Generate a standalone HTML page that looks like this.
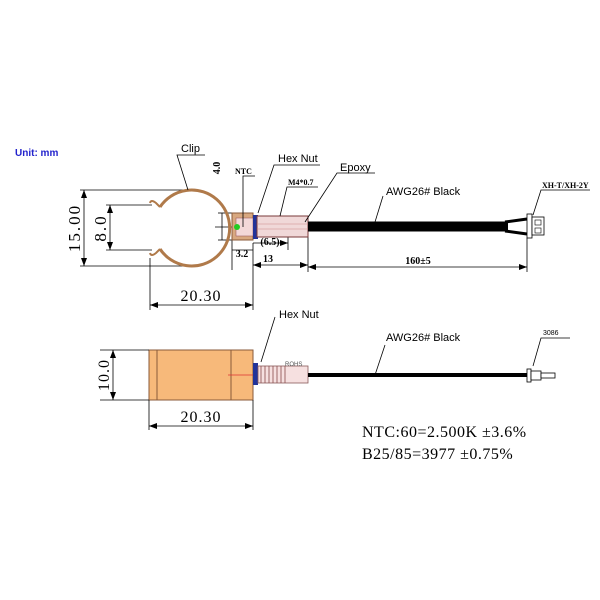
<!DOCTYPE html>
<html><head><meta charset="utf-8"><style>body{margin:0;background:#fff}svg{display:block}</style></head><body>
<svg width="600" height="600" viewBox="0 0 600 600" xmlns="http://www.w3.org/2000/svg">
<defs>
<marker id="a" markerWidth="8" markerHeight="6" refX="8" refY="3" orient="auto-start-reverse" markerUnits="userSpaceOnUse"><path d="M0,0L8,3L0,6z" fill="#000"/></marker>
</defs>
<rect width="600" height="600" fill="#fff"/>
<text x="15" y="156" font-family="Liberation Sans,sans-serif" font-size="10" font-weight="bold" fill="#2222cc">Unit: mm</text>

<!-- TOP VIEW -->
<g stroke="#000" stroke-width="0.8" fill="none">
<line x1="80" y1="190" x2="192" y2="190"/><line x1="80" y1="266" x2="192" y2="266"/>
<line x1="84" y1="190" x2="84" y2="266" marker-start="url(#a)" marker-end="url(#a)"/>
<line x1="106" y1="205" x2="152" y2="205"/><line x1="106" y1="250" x2="152" y2="250"/>
<line x1="110" y1="205" x2="110" y2="250" marker-start="url(#a)" marker-end="url(#a)"/>
<line x1="218" y1="213" x2="232" y2="213"/><line x1="218" y1="240" x2="232" y2="240"/>
<line x1="222" y1="213" x2="222" y2="240"/>
<line x1="215" y1="227" x2="232" y2="227"/>
<line x1="150" y1="258" x2="150" y2="310"/><line x1="253" y1="243" x2="253" y2="310"/>
<line x1="150" y1="305" x2="253" y2="305" marker-start="url(#a)" marker-end="url(#a)"/>
<line x1="232" y1="240" x2="232" y2="270"/>
<line x1="232" y1="250" x2="253" y2="250"/>
<line x1="253" y1="243" x2="288" y2="243" marker-end="url(#a)"/><line x1="288" y1="237" x2="288" y2="250"/>
<line x1="253" y1="265" x2="308" y2="265" marker-start="url(#a)" marker-end="url(#a)"/>
<line x1="308" y1="237" x2="308" y2="272"/>
<line x1="527" y1="238" x2="527" y2="272"/>
<line x1="308" y1="267" x2="527" y2="267" marker-start="url(#a)" marker-end="url(#a)"/>
</g>
<text transform="translate(80,228) rotate(-90)" text-anchor="middle" font-family="Liberation Serif,serif" font-size="17" letter-spacing="2">15.00</text>
<text transform="translate(106,228) rotate(-90)" text-anchor="middle" font-family="Liberation Serif,serif" font-size="17" letter-spacing="2">8.0</text>
<text transform="translate(220,168) rotate(-90)" text-anchor="middle" font-family="Liberation Serif,serif" font-size="10" font-weight="bold">4.0</text>
<text x="201" y="301" text-anchor="middle" font-family="Liberation Serif,serif" font-size="16" letter-spacing="1">20.30</text>
<text x="242" y="257" text-anchor="middle" font-family="Liberation Serif,serif" font-size="10" font-weight="bold">3.2</text>
<text x="270" y="245" text-anchor="middle" font-family="Liberation Serif,serif" font-size="10" font-weight="bold">(6.5)</text>
<text x="268" y="262" text-anchor="middle" font-family="Liberation Serif,serif" font-size="10" font-weight="bold">13</text>
<text x="418" y="264" text-anchor="middle" font-family="Liberation Serif,serif" font-size="10" font-weight="bold">160±5</text>

<!-- clip -->
<path d="M160,207 A38,38 0 1 1 160,249" fill="none" stroke="#b07a4a" stroke-width="3"/>
<path d="M160,207 L156,203 Q151,199 150,203" fill="none" stroke="#b07a4a" stroke-width="2"/>
<path d="M160,249 L156,253 Q151,257 150,253" fill="none" stroke="#b07a4a" stroke-width="2"/>
<!-- NTC block -->
<rect x="232" y="213" width="21" height="27" fill="#d8a880" stroke="#8a5a3a"/>
<rect x="236" y="218" width="17" height="18" fill="#f3d8d8" stroke="#a06060" stroke-width="0.6"/>
<circle cx="237" cy="227" r="3" fill="#2c2"/>
<rect x="253" y="215" width="5" height="24" fill="#223399"/>
<rect x="257" y="216" width="51" height="21" fill="#f0d8d8" stroke="#7a3a3a"/>
<line x1="257" y1="224" x2="308" y2="224" stroke="#c88" stroke-width="0.6"/>
<line x1="257" y1="229" x2="308" y2="229" stroke="#c88" stroke-width="0.6"/>
<line x1="308" y1="226.5" x2="508" y2="226.5" stroke="#000" stroke-width="10"/>
<path d="M505,222 L527,219 M505,231 L527,234" stroke="#000" stroke-width="3" fill="none"/>
<rect x="527" y="214" width="5" height="24" fill="#fff" stroke="#000" stroke-width="0.8"/>
<rect x="532" y="217" width="12" height="18" fill="#fff" stroke="#000" stroke-width="0.8"/>
<rect x="535" y="220" width="6" height="5" fill="none" stroke="#000" stroke-width="0.6"/>
<rect x="535" y="228" width="6" height="5" fill="none" stroke="#000" stroke-width="0.6"/>

<!-- labels top -->
<g stroke="#000" stroke-width="0.8" fill="none">
<path d="M188,190 L177,155 L205,155"/>
<path d="M243,227 L243,176 L255,176"/>
<path d="M258,213 L274,165 L320,165"/>
<path d="M280,216 L287,187 L318,187"/>
<path d="M305,222 L337,173 L375,173"/>
<path d="M375,222 L383,196"/>
<path d="M533,215 L541,190 L590,190"/>
</g>
<text x="181" y="152" font-family="Liberation Sans,sans-serif" font-size="11">Clip</text>
<text x="235" y="174" font-family="Liberation Serif,serif" font-size="8" font-weight="bold">NTC</text>
<text x="278" y="162" font-family="Liberation Sans,sans-serif" font-size="11">Hex Nut</text>
<text x="288" y="185" font-family="Liberation Serif,serif" font-size="8" font-weight="bold">M4*0.7</text>
<text x="340" y="171" font-family="Liberation Sans,sans-serif" font-size="11">Epoxy</text>
<text x="386" y="195" font-family="Liberation Sans,sans-serif" font-size="11">AWG26# Black</text>
<text x="542" y="188" font-family="Liberation Serif,serif" font-size="8" font-weight="bold">XH-T/XH-2Y</text>

<!-- BOTTOM VIEW -->
<rect x="149" y="350" width="104" height="50" fill="#f7b97a" stroke="#8a5a3a"/>
<line x1="157" y1="350" x2="157" y2="400" stroke="#8a5a3a"/>
<line x1="231" y1="350" x2="231" y2="400" stroke="#8a5a3a"/>
<line x1="228" y1="375" x2="268" y2="375" stroke="#d33" stroke-width="0.8"/>
<rect x="253" y="363" width="5" height="22" fill="#223399"/>
<rect x="258" y="366" width="50" height="17" fill="#f6e0e0" stroke="#8a5a5a" stroke-width="0.8"/>
<g stroke="#8a4a4a" stroke-width="0.8">
<line x1="261" y1="366" x2="261" y2="383"/><line x1="265" y1="366" x2="265" y2="383"/><line x1="269" y1="366" x2="269" y2="383"/><line x1="273" y1="366" x2="273" y2="383"/><line x1="277" y1="366" x2="277" y2="383"/><line x1="281" y1="366" x2="281" y2="383"/><line x1="285" y1="366" x2="285" y2="383"/>
</g>
<text x="285" y="366" font-family="Liberation Sans,sans-serif" font-size="6" fill="#555">ROHS</text>
<line x1="308" y1="375" x2="527" y2="375" stroke="#000" stroke-width="4"/>
<rect x="527" y="369" width="4" height="13" fill="#fff" stroke="#000" stroke-width="0.8"/>
<rect x="531" y="371" width="10" height="9" fill="#fff" stroke="#000" stroke-width="0.8"/>
<rect x="541" y="373" width="14" height="5" fill="#fff" stroke="#000" stroke-width="0.8"/>
<g stroke="#000" stroke-width="0.8" fill="none">
<line x1="100" y1="350" x2="149" y2="350"/><line x1="100" y1="400" x2="149" y2="400"/>
<line x1="113" y1="350" x2="113" y2="400" marker-start="url(#a)" marker-end="url(#a)"/>
<line x1="149" y1="400" x2="149" y2="430"/><line x1="253" y1="400" x2="253" y2="430"/>
<line x1="149" y1="426" x2="253" y2="426" marker-start="url(#a)" marker-end="url(#a)"/>
<path d="M261,362 L275,317"/>
<path d="M375,375 L385,345"/>
<path d="M533,366 L541,338 L570,338"/>
</g>
<text transform="translate(109,375) rotate(-90)" text-anchor="middle" font-family="Liberation Serif,serif" font-size="16" letter-spacing="1">10.0</text>
<text x="201" y="422" text-anchor="middle" font-family="Liberation Serif,serif" font-size="16" letter-spacing="1">20.30</text>
<text x="279" y="318" font-family="Liberation Sans,sans-serif" font-size="11">Hex Nut</text>
<text x="386" y="341" font-family="Liberation Sans,sans-serif" font-size="11">AWG26# Black</text>
<text x="543" y="335" font-family="Liberation Sans,sans-serif" font-size="7">3086</text>
<text x="362" y="437" font-family="Liberation Serif,serif" font-size="16" letter-spacing="0.5">NTC:60=2.500K ±3.6%</text>
<text x="362" y="459" font-family="Liberation Serif,serif" font-size="16" letter-spacing="0.5">B25/85=3977 ±0.75%</text>
</svg>
</body></html>
